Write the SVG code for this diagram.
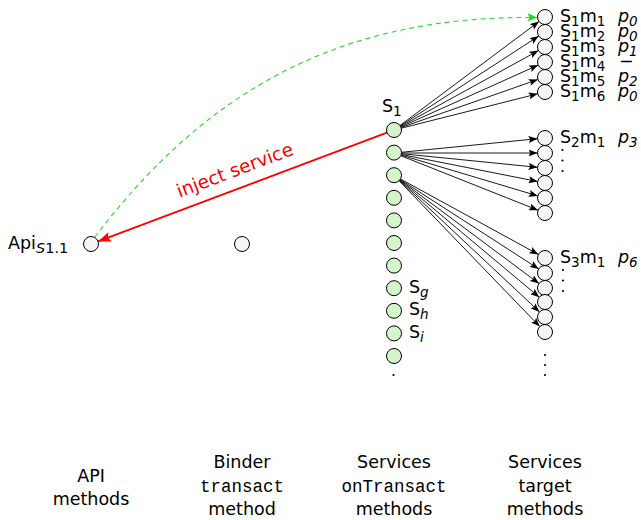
<svg xmlns="http://www.w3.org/2000/svg" width="641" height="520" viewBox="0 0 641 520">
  <style>
    text { font-family: "DejaVu Sans", "Liberation Sans", sans-serif; font-size: 17.5px; fill: #000; }
    .sub { font-size: 13.5px; }
    .it { font-style: italic; }
    .mono { font-family: "Liberation Mono", "DejaVu Sans Mono", monospace; font-size: 19.5px; }
    .cap { font-size: 17.5px; text-anchor: middle; }
    .svc { fill: #d4f5cc; stroke: #000; stroke-width: 1; }
    .plain { fill: #f4f4f4; stroke: #000; stroke-width: 1; }
    .call { stroke: #000; stroke-width: 0.9; fill: none; marker-end: url(#ahBlack); }
    .inject { stroke: #ff0000; stroke-width: 1.8; fill: none; marker-end: url(#ahRed); }
    .ret { stroke: #22dd22; stroke-width: 1.1; fill: none; stroke-dasharray: 5 4; marker-end: url(#ahGreen); }
    .dot { fill: #000; }
  </style>
  <defs>
    <marker id="ahBlack" markerUnits="userSpaceOnUse" markerWidth="9" markerHeight="7" viewBox="0 0 9 7" refX="9" refY="3.5" orient="auto">
      <path d="M0,0 L9,3.5 L0,7 L1.8,3.5 z" fill="#000"/>
    </marker>
    <marker id="ahRed" markerUnits="userSpaceOnUse" markerWidth="13" markerHeight="10" viewBox="0 0 13 10" refX="13" refY="5" orient="auto">
      <path d="M0,0 L13,5 L0,10 L2.6,5 z" fill="#ff0000"/>
    </marker>
    <marker id="ahGreen" markerUnits="userSpaceOnUse" markerWidth="10" markerHeight="8" viewBox="0 0 10 8" refX="10" refY="4" orient="auto">
      <path d="M0,0 L10,4 L0,8 L2,4 z" fill="#22dd22"/>
    </marker>
  </defs>

  <!-- connectors -->
  <g id="connectors">
    <!-- S1 to its six target methods -->
    <line class="call" x1="400.0" y1="125.5" x2="539.0" y2="21.5"/>
    <line class="call" x1="400.3" y1="125.9" x2="538.7" y2="36.1"/>
    <line class="call" x1="400.6" y1="126.4" x2="538.4" y2="50.6"/>
    <line class="call" x1="400.8" y1="126.9" x2="538.2" y2="65.1"/>
    <line class="call" x1="401.1" y1="127.5" x2="537.9" y2="79.5"/>
    <line class="call" x1="401.3" y1="128.2" x2="537.7" y2="93.8"/>
    <!-- S2 fan-out -->
    <line class="call" x1="401.5" y1="152.3" x2="537.5" y2="138.7"/>
    <line class="call" x1="401.5" y1="153" x2="537.5" y2="153"/>
    <line class="call" x1="401.5" y1="153.7" x2="537.5" y2="167.3"/>
    <line class="call" x1="401.4" y1="154.5" x2="537.6" y2="181.5"/>
    <line class="call" x1="401.2" y1="155.1" x2="537.8" y2="195.9"/>
    <line class="call" x1="401.0" y1="155.8" x2="538.0" y2="210.2"/>
    <!-- S3 fan-out -->
    <line class="call" x1="400.6" y1="179.1" x2="538.4" y2="254.4"/>
    <line class="call" x1="400.3" y1="179.6" x2="538.7" y2="268.9"/>
    <line class="call" x1="400.0" y1="180.0" x2="539.0" y2="283.5"/>
    <line class="call" x1="399.7" y1="180.3" x2="539.3" y2="297.2"/>
    <line class="call" x1="399.5" y1="180.6" x2="539.5" y2="311.9"/>
    <line class="call" x1="399.2" y1="180.9" x2="539.8" y2="326.6"/>
    <!-- injected service back to the API method -->
    <line class="inject" x1="387" y1="132.6" x2="98" y2="241.4"/>
    <text x="237" y="176" transform="rotate(-20.6 237 176)" style="fill:#ff0000;font-size:18.5px;text-anchor:middle">inject service</text>
    <!-- dashed return to the first target method -->
    <path class="ret" d="M94.5,237.5 C209,86 346,15 537.5,17.5"/>
  </g>

  <!-- API method -->
  <g id="api">
    <circle class="plain" cx="91" cy="244" r="7.5"/>
    <text x="8" y="249">Api<tspan class="it" style="font-size:14.5px" dy="4">S</tspan><tspan style="font-size:14.5px">1.1</tspan></text>
  </g>

  <!-- Binder transact -->
  <g id="binder">
    <circle class="plain" cx="242" cy="244" r="7.5"/>
  </g>

  <!-- onTransact services -->
  <g id="services">
    <circle class="svc" cx="394" cy="130" r="7.5"/>
    <circle class="svc" cx="394" cy="152.6" r="7.5"/>
    <circle class="svc" cx="394" cy="175.2" r="7.5"/>
    <circle class="svc" cx="394" cy="197.8" r="7.5"/>
    <circle class="svc" cx="394" cy="220.4" r="7.5"/>
    <circle class="svc" cx="394" cy="243" r="7.5"/>
    <circle class="svc" cx="394" cy="265.6" r="7.5"/>
    <circle class="svc" cx="394" cy="288.2" r="7.5"/>
    <circle class="svc" cx="394" cy="310.8" r="7.5"/>
    <circle class="svc" cx="394" cy="333.4" r="7.5"/>
    <circle class="svc" cx="394" cy="356" r="7.5"/>
    <circle class="dot" cx="393.5" cy="375" r="1.1"/>
    <text x="382" y="112">S<tspan class="sub" dy="4">1</tspan></text>
    <text x="409" y="292.5">S<tspan class="sub it" dy="4">g</tspan></text>
    <text x="409" y="315">S<tspan class="sub it" dy="4">h</tspan></text>
    <text x="409" y="337.5">S<tspan class="sub it" dy="4">i</tspan></text>
  </g>

  <!-- target methods of S1 -->
  <g id="targets-s1">
    <circle class="plain" cx="545" cy="17" r="7.5"/>
    <circle class="plain" cx="545" cy="32" r="7.5"/>
    <circle class="plain" cx="545" cy="47" r="7.5"/>
    <circle class="plain" cx="545" cy="62" r="7.5"/>
    <circle class="plain" cx="545" cy="77" r="7.5"/>
    <circle class="plain" cx="545" cy="92" r="7.5"/>
    <text x="560" y="22">S<tspan class="sub" dy="4">1</tspan><tspan dy="-4">m</tspan><tspan class="sub" dy="4">1</tspan></text>
    <text x="560" y="37">S<tspan class="sub" dy="4">1</tspan><tspan dy="-4">m</tspan><tspan class="sub" dy="4">2</tspan></text>
    <text x="560" y="52">S<tspan class="sub" dy="4">1</tspan><tspan dy="-4">m</tspan><tspan class="sub" dy="4">3</tspan></text>
    <text x="560" y="67">S<tspan class="sub" dy="4">1</tspan><tspan dy="-4">m</tspan><tspan class="sub" dy="4">4</tspan></text>
    <text x="560" y="82">S<tspan class="sub" dy="4">1</tspan><tspan dy="-4">m</tspan><tspan class="sub" dy="4">5</tspan></text>
    <text x="560" y="97">S<tspan class="sub" dy="4">1</tspan><tspan dy="-4">m</tspan><tspan class="sub" dy="4">6</tspan></text>
    <text x="618" y="22" class="it">p<tspan class="sub" dy="4">0</tspan></text>
    <text x="618" y="37" class="it">p<tspan class="sub" dy="4">0</tspan></text>
    <text x="618" y="52" class="it">p<tspan class="sub" dy="4">1</tspan></text>
    <text x="619" y="67">−</text>
    <text x="618" y="82" class="it">p<tspan class="sub" dy="4">2</tspan></text>
    <text x="618" y="97" class="it">p<tspan class="sub" dy="4">0</tspan></text>
  </g>

  <!-- target methods of S2 -->
  <g id="targets-s2">
    <circle class="plain" cx="545" cy="138" r="7.5"/>
    <circle class="plain" cx="545" cy="153" r="7.5"/>
    <circle class="plain" cx="545" cy="168" r="7.5"/>
    <circle class="plain" cx="545" cy="183" r="7.5"/>
    <circle class="plain" cx="545" cy="198" r="7.5"/>
    <circle class="plain" cx="545" cy="213" r="7.5"/>
    <text x="560" y="143">S<tspan class="sub" dy="4">2</tspan><tspan dy="-4">m</tspan><tspan class="sub" dy="4">1</tspan></text>
    <text x="618" y="143" class="it">p<tspan class="sub" dy="4">3</tspan></text>
    <circle class="dot" cx="562.5" cy="150" r="1.1"/>
    <circle class="dot" cx="562.5" cy="160.5" r="1.1"/>
    <circle class="dot" cx="562.5" cy="171" r="1.1"/>
  </g>

  <!-- target methods of S3 -->
  <g id="targets-s3">
    <circle class="plain" cx="545" cy="258" r="7.5"/>
    <circle class="plain" cx="545" cy="273" r="7.5"/>
    <circle class="plain" cx="545" cy="288" r="7.5"/>
    <circle class="plain" cx="545" cy="302" r="7.5"/>
    <circle class="plain" cx="545" cy="317" r="7.5"/>
    <circle class="plain" cx="545" cy="332" r="7.5"/>
    <text x="560" y="263">S<tspan class="sub" dy="4">3</tspan><tspan dy="-4">m</tspan><tspan class="sub" dy="4">1</tspan></text>
    <text x="618" y="263" class="it">p<tspan class="sub" dy="4">6</tspan></text>
    <circle class="dot" cx="563" cy="270" r="1.1"/>
    <circle class="dot" cx="563" cy="280.5" r="1.1"/>
    <circle class="dot" cx="563" cy="291" r="1.1"/>
    <circle class="dot" cx="545" cy="355" r="1.1"/>
    <circle class="dot" cx="545" cy="365" r="1.1"/>
    <circle class="dot" cx="545" cy="375" r="1.1"/>
  </g>

  <!-- column captions -->
  <g id="captions">
    <text class="cap" x="91" y="481.5">API</text>
    <text class="cap" x="91" y="505">methods</text>
    <text class="cap" x="242" y="468">Binder</text>
    <text class="cap mono" x="242" y="491.5">transact</text>
    <text class="cap" x="242" y="515">method</text>
    <text class="cap" x="394" y="468">Services</text>
    <text class="cap mono" x="394" y="491.5">onTransact</text>
    <text class="cap" x="394" y="515">methods</text>
    <text class="cap" x="545" y="468">Services</text>
    <text class="cap" x="545" y="491.5">target</text>
    <text class="cap" x="545" y="515">methods</text>
  </g>
</svg>
